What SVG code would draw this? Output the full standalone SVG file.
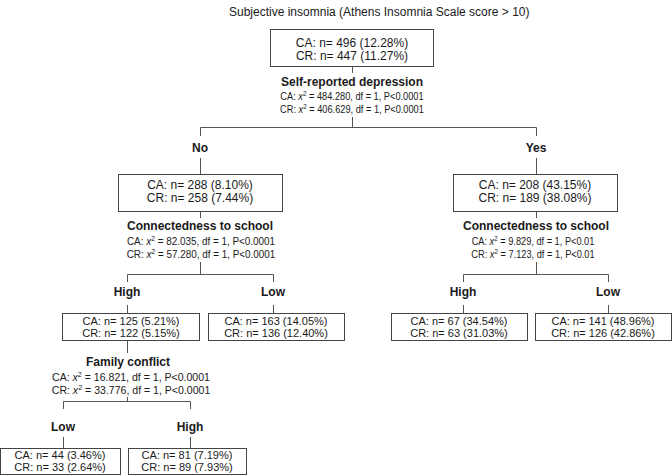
<svg xmlns="http://www.w3.org/2000/svg" width="672" height="476" viewBox="0 0 672 476">
<style>
text{font-family:"Liberation Sans",Arial,sans-serif;fill:#1a1a1a}
.t{font-size:12px}
.b12{font-size:12px;text-anchor:middle}
.b11{font-size:11px;text-anchor:middle}
.lbl{font-size:12px;font-weight:bold;text-anchor:middle}
.chi{font-size:11px;text-anchor:middle}
.sup{font-size:7.5px}
.box{fill:#fff;stroke:#444;stroke-width:1}
.c{fill:none;stroke:#555;stroke-width:1}
</style>
<rect width="672" height="476" fill="#fff"/>
<text class="t" x="229" y="16">Subjective insomnia (Athens Insomnia Scale score &gt; 10)</text>

<g id="connectors">
<path class="c" d="M352.5,66V73M352.5,117V127.5M200.5,127.5H536.5M200.5,127.5V136M536.5,127.5V136M200.5,158V174M536.5,158V174"/>
<path class="c" d="M200.5,211V218M200.5,262V274.5M127.5,274.5H273.5M127.5,274.5V282M273.5,274.5V282M127.5,305V313M273.5,305V313"/>
<path class="c" d="M536.5,211V218M536.5,262V274.5M463.5,274.5H608.5M463.5,274.5V282M608.5,274.5V282M463.5,305V313M608.5,305V313"/>
<path class="c" d="M127.5,340V353M127.5,397V401.5M63.5,401.5H190.5M63.5,401.5V409M190.5,401.5V409M63.5,437V448M190.5,437V448"/>
</g>

<g id="root">
<rect class="box" x="270.5" y="29.5" width="163" height="37"/>
<text class="b12" x="352" y="47">CA: n= 496 (12.28%)</text>
<text class="b12" x="352" y="60">CR: n= 447 (11.27%)</text>
</g>
<g id="split-depression">
<text class="lbl" x="352" y="86">Self-reported depression</text>
<g transform="translate(352,0) scale(0.84,1)">
<text class="chi" x="0" y="100">CA: <tspan font-style="italic">x</tspan><tspan class="sup" dy="-4">2</tspan><tspan dy="4"> = 484.280, df = 1, P&lt;0.0001</tspan></text>
<text class="chi" x="0" y="113">CR: <tspan font-style="italic">x</tspan><tspan class="sup" dy="-4">2</tspan><tspan dy="4"> = 406.629, df = 1, P&lt;0.0001</tspan></text>
</g>
</g>

<g id="no">
<text class="lbl" x="200" y="152">No</text>
<rect class="box" x="118.5" y="174.5" width="164" height="37"/>
<text class="b12" x="200" y="189">CA: n= 288 (8.10%)</text>
<text class="b12" x="200" y="202">CR: n= 258 (7.44%)</text>
<text class="lbl" x="200" y="230">Connectedness to school</text>
<g transform="translate(201,0) scale(0.9,1)">
<text class="chi" x="0" y="245">CA: <tspan font-style="italic">x</tspan><tspan class="sup" dy="-4">2</tspan><tspan dy="4"> = 82.035, df = 1, P&lt;0.0001</tspan></text>
<text class="chi" x="0" y="258">CR: <tspan font-style="italic">x</tspan><tspan class="sup" dy="-4">2</tspan><tspan dy="4"> = 57.280, df = 1, P&lt;0.0001</tspan></text>
</g>
</g>

<g id="yes">
<text class="lbl" x="536" y="152">Yes</text>
<rect class="box" x="453.5" y="174.5" width="164" height="37"/>
<text class="b12" x="535" y="189">CA: n= 208 (43.15%)</text>
<text class="b12" x="535" y="202">CR: n= 189 (38.08%)</text>
<text class="lbl" x="536" y="230">Connectedness to school</text>
<g transform="translate(533,0) scale(0.84,1)">
<text class="chi" x="0" y="245">CA: <tspan font-style="italic">x</tspan><tspan class="sup" dy="-4">2</tspan><tspan dy="4"> = 9.829, df = 1, P&lt;0.01</tspan></text>
<text class="chi" x="0" y="258">CR: <tspan font-style="italic">x</tspan><tspan class="sup" dy="-4">2</tspan><tspan dy="4"> = 7.123, df = 1, P&lt;0.01</tspan></text>
</g>
</g>

<g id="no-high">
<text class="lbl" x="127" y="296">High</text>
<rect class="box" x="62.5" y="313.5" width="137" height="27"/>
<text class="b11" x="131" y="324.5">CA: n= 125 (5.21%)</text>
<text class="b11" x="131" y="336.5">CR: n= 122 (5.15%)</text>
<text class="lbl" x="128" y="366">Family conflict</text>
<g transform="translate(131,0) scale(0.96,1)">
<text class="chi" x="0" y="381">CA: <tspan font-style="italic">x</tspan><tspan class="sup" dy="-4">2</tspan><tspan dy="4"> = 16.821, df = 1, P&lt;0.0001</tspan></text>
<text class="chi" x="0" y="394">CR: <tspan font-style="italic">x</tspan><tspan class="sup" dy="-4">2</tspan><tspan dy="4"> = 33.776, df = 1, P&lt;0.0001</tspan></text>
</g>
</g>

<g id="no-low">
<text class="lbl" x="273" y="296">Low</text>
<rect class="box" x="208.5" y="313.5" width="136" height="27"/>
<text class="b11" x="276" y="324.5">CA: n= 163 (14.05%)</text>
<text class="b11" x="276" y="336.5">CR: n= 136 (12.40%)</text>
</g>

<g id="yes-high">
<text class="lbl" x="463" y="296">High</text>
<rect class="box" x="391.5" y="313.5" width="136" height="27"/>
<text class="b11" x="459" y="324.5">CA: n= 67 (34.54%)</text>
<text class="b11" x="459" y="336.5">CR: n= 63 (31.03%)</text>
</g>

<g id="yes-low">
<text class="lbl" x="608" y="296">Low</text>
<rect class="box" x="535.5" y="313.5" width="136" height="27"/>
<text class="b11" x="603" y="324.5">CA: n= 141 (48.96%)</text>
<text class="b11" x="603" y="336.5">CR: n= 126 (42.86%)</text>
</g>

<g id="family-low">
<text class="lbl" x="63" y="431">Low</text>
<rect class="box" x="0.5" y="448.5" width="120" height="26"/>
<text class="b11" x="60" y="459">CA: n= 44 (3.46%)</text>
<text class="b11" x="60" y="471">CR: n= 33 (2.64%)</text>
</g>

<g id="family-high">
<text class="lbl" x="190" y="431">High</text>
<rect class="box" x="128.5" y="448.5" width="118" height="26"/>
<text class="b11" x="187" y="459">CA: n= 81 (7.19%)</text>
<text class="b11" x="187" y="471">CR: n= 89 (7.93%)</text>
</g>
</svg>
